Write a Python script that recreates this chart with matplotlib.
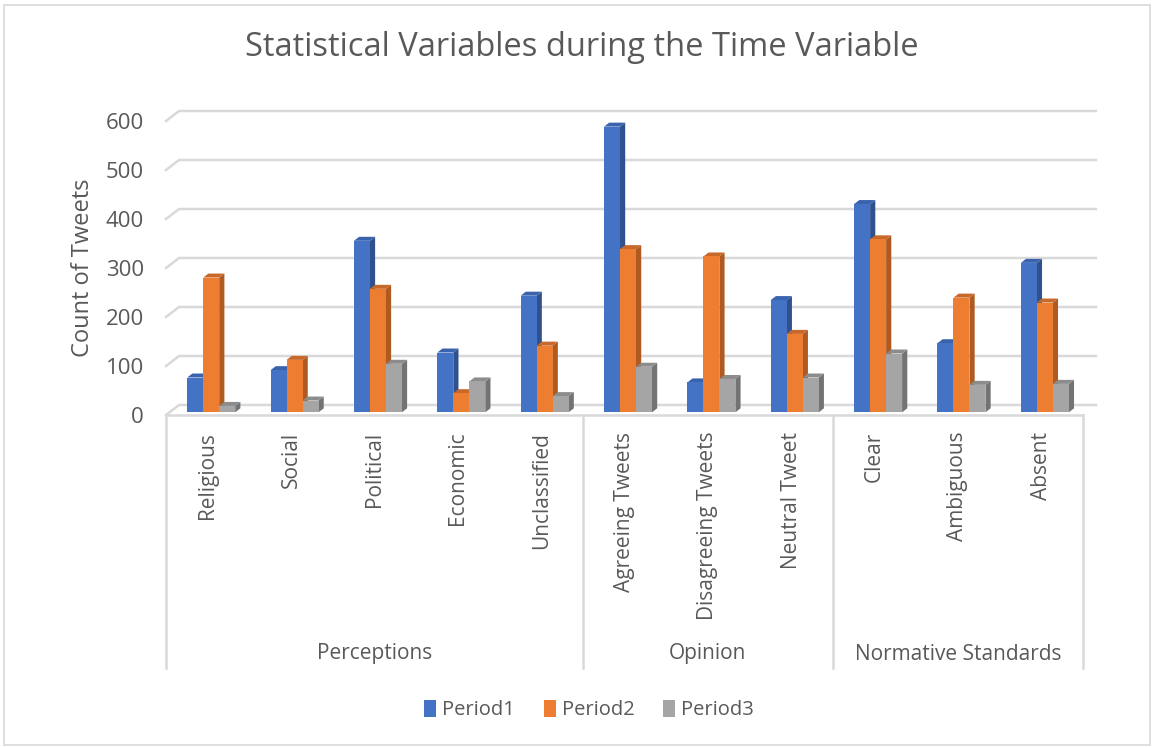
import numpy as np
import matplotlib.pyplot as plt
from matplotlib.patches import Polygon, Rectangle, Patch

# data
categories = ["Religious", "Social", "Political", "Economic", "Unclassified",
              "Agreeing Tweets", "Disagreeing Tweets", "Neutral Tweet",
              "Clear", "Ambiguous", "Absent"]
groups = ["Perceptions", "Opinion", "Normative Standards"]
group_sizes = [5, 3, 3]
series_names = ["Period1", "Period2", "Period3"]
period1 = [71, 86, 350, 122, 238, 583, 61, 229, 425, 141, 305]
period2 = [275, 107, 252, 39, 136, 333, 318, 160, 353, 234, 224]
period3 = [13, 24, 99, 63, 33, 93, 68, 71, 120, 56, 58]
yticks = [0, 100, 200, 300, 400, 500, 600]

front_cols = ["#4472C4", "#ED7D31", "#A5A5A5"]
side_cols = ["#2F528F", "#AE5A21", "#737373"]
top_cols = ["#3A63AD", "#C8682A", "#8C8C8C"]
text_col = "#595959"
grid_col = "#D9D9D9"

plt.rcParams['font.family'] = ['Open Sans', 'DejaVu Sans']

W, H, DPI = 1154, 747, 100
fig = plt.figure(figsize=(W / DPI, H / DPI), dpi=DPI)

# axes placement in pixels
ax_l, ax_r, ax_b, ax_t = 166, 1100, 415, 100
ax = fig.add_axes([ax_l / W, 1 - ax_b / H, (ax_r - ax_l) / W, (ax_b - ax_t) / H])
cat_px = (1083 - 166) / len(categories)
px_per_unit = 0.49
ax.set_xlim(-0.5, -0.5 + (ax_r - ax_l) / cat_px)
ax.set_ylim(0, (ax_b - ax_t) / px_per_unit)
for s in ax.spines.values():
    s.set_visible(False)

# fake 3D depth
DX = 13 / cat_px
DY = 10 / px_per_unit
n = len(categories)


def proj(x, y, d):
    return (x + d * DX, y + d * DY)


# back wall gridlines + floor diagonals
for v in yticks:
    pts = [proj(-0.5, v, 0), proj(-0.5, v, 1), proj(n - 0.5, v, 1)]
    xs, ys = zip(*pts)
    ax.plot(xs, ys, color=grid_col, lw=1.8, zorder=1, clip_on=False)
ax.plot([-0.5, n - 0.5], [0, 0], color=grid_col, lw=1.8, zorder=1, clip_on=False)

# bars
bw = 16 / cat_px
d0, d1 = 0.27, 0.67
vals = [period1, period2, period3]
z = 2
for i in range(n):
    for k in range(3):
        v = vals[k][i]
        xl = i - 1.5 * bw + k * bw
        xr = xl + bw
        front = [proj(xl, 0, d0), proj(xr, 0, d0), proj(xr, v, d0), proj(xl, v, d0)]
        side = [proj(xr, 0, d0), proj(xr, 0, d1), proj(xr, v, d1), proj(xr, v, d0)]
        top = [proj(xl, v, d0), proj(xr, v, d0), proj(xr, v, d1), proj(xl, v, d1)]
        ax.add_patch(Polygon(side, closed=True, fc=side_cols[k], ec='none', zorder=z))
        ax.add_patch(Polygon(top, closed=True, fc=top_cols[k], ec='none', zorder=z))
        ax.add_patch(Polygon(front, closed=True, fc=front_cols[k], ec='none', zorder=z + 1))
        z += 2

# y axis
ax.set_yticks(yticks)
ax.set_yticklabels([str(t) for t in yticks], fontsize=16, color=text_col)
ax.tick_params(axis='y', length=0, pad=16)
fig.text(83 / W, 1 - 268 / H, "Count of Tweets", rotation=90, ha='center', va='center',
         fontsize=17, color=text_col)

# x axis category labels
ax.set_xticks(range(n))
ax.set_xticklabels(categories, rotation=90, fontsize=15, color=text_col, va='top')
ax.tick_params(axis='x', length=0, pad=12)

# group separators and labels
sep_bottom = -(668 - ax_b) / px_per_unit
edges = np.concatenate([[0], np.cumsum(group_sizes)]) - 0.5
for e in edges:
    ax.plot([e, e], [0, sep_bottom], color=grid_col, lw=1.8, clip_on=False)
for g, a, b in zip(groups, edges[:-1], edges[1:]):
    ax.text((a + b) / 2, -(654 - ax_b) / px_per_unit, g, ha='center', va='center',
            fontsize=15, color=text_col, clip_on=False)

# title
fig.text(582 / W, 1 - 48 / H, "Statistical Variables during the Time Variable",
         ha='center', va='center', fontsize=23.5, color=text_col)

# legend
handles = [Patch(fc=c, ec='none') for c in front_cols]
fig.legend(handles, series_names, loc='center', bbox_to_anchor=(589 / W, 1 - 710 / H),
           ncol=3, frameon=False, fontsize=14.5, handlelength=0.6, handleheight=0.9,
           handletextpad=0.3, columnspacing=1.4, labelcolor=text_col)

# chart border
fig.add_artist(Rectangle((4 / W, 2 / H), 1146 / W, 740 / H, transform=fig.transFigure,
                         fill=False, ec=grid_col, lw=1.2))

fig.savefig("out.png", dpi=DPI)
